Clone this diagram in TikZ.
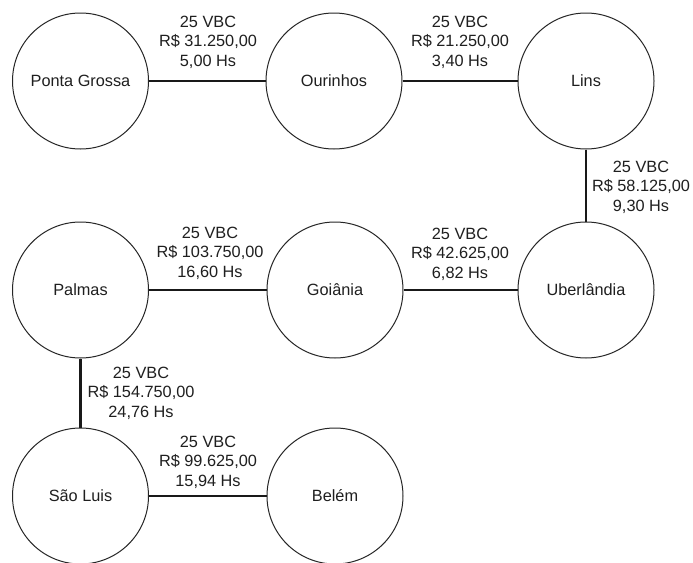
\documentclass[tikz,border=0pt]{standalone}
\usepackage{fontspec}
\setmainfont{Liberation Sans}
\begin{document}
\begin{tikzpicture}[x=1pt,y=-1pt,
  city/.style={draw=black!85,line width=1pt,circle,minimum size=136pt,inner sep=0pt,
    font=\fontsize{16.3}{19.5}\selectfont,text=black!88},
  route/.style={draw=black!90,line width=2.3pt},
  info/.style={align=center,inner sep=0pt,font=\fontsize{16.3}{19.5}\selectfont,text=black!88}]
\useasboundingbox[fill=white] (0,0) rectangle (693,562);

% cities
\node[city] (pg)  at (80.5,81)  {Ponta Grossa};
\node[city] (our) at (334,81)   {Ourinhos};
\node[city] (lin) at (586,81)   {Lins};
\node[city] (ube) at (586,290)  {Uberlândia};
\node[city] (goi) at (335,290)  {Goiânia};
\node[city] (pal) at (80.5,290) {Palmas};
\node[city] (sl)  at (80.5,496) {São Luis};
\node[city] (bel) at (335,496)  {Belém};

% routes
\draw[route] (pg) -- (our);
\draw[route] (our) -- (lin);
\draw[route] (lin) -- (ube);
\draw[route] (goi) -- (ube);
\draw[route] (pal) -- (goi);
\draw[route] (pal) -- (sl);
\draw[route] (sl) -- (bel);

% route data
\node[info] (i1) at (208,42)  {25 VBC\\R\$ 31.250,00\\5,00 Hs};
\node[info] (i2) at (460,42)  {25 VBC\\R\$ 21.250,00\\3,40 Hs};
\node[info] (i3) at (641,187) {25 VBC\\R\$ 58.125,00\\9,30 Hs};
\node[info] (i4) at (210,253) {25 VBC\\R\$ 103.750,00\\16,60 Hs};
\node[info] (i5) at (460,254) {25 VBC\\R\$ 42.625,00\\6,82 Hs};
\node[info] (i6) at (141,393) {25 VBC\\R\$ 154.750,00\\24,76 Hs};
\node[info] (i7) at (208,462) {25 VBC\\R\$ 99.625,00\\15,94 Hs};
\end{tikzpicture}
\end{document}
